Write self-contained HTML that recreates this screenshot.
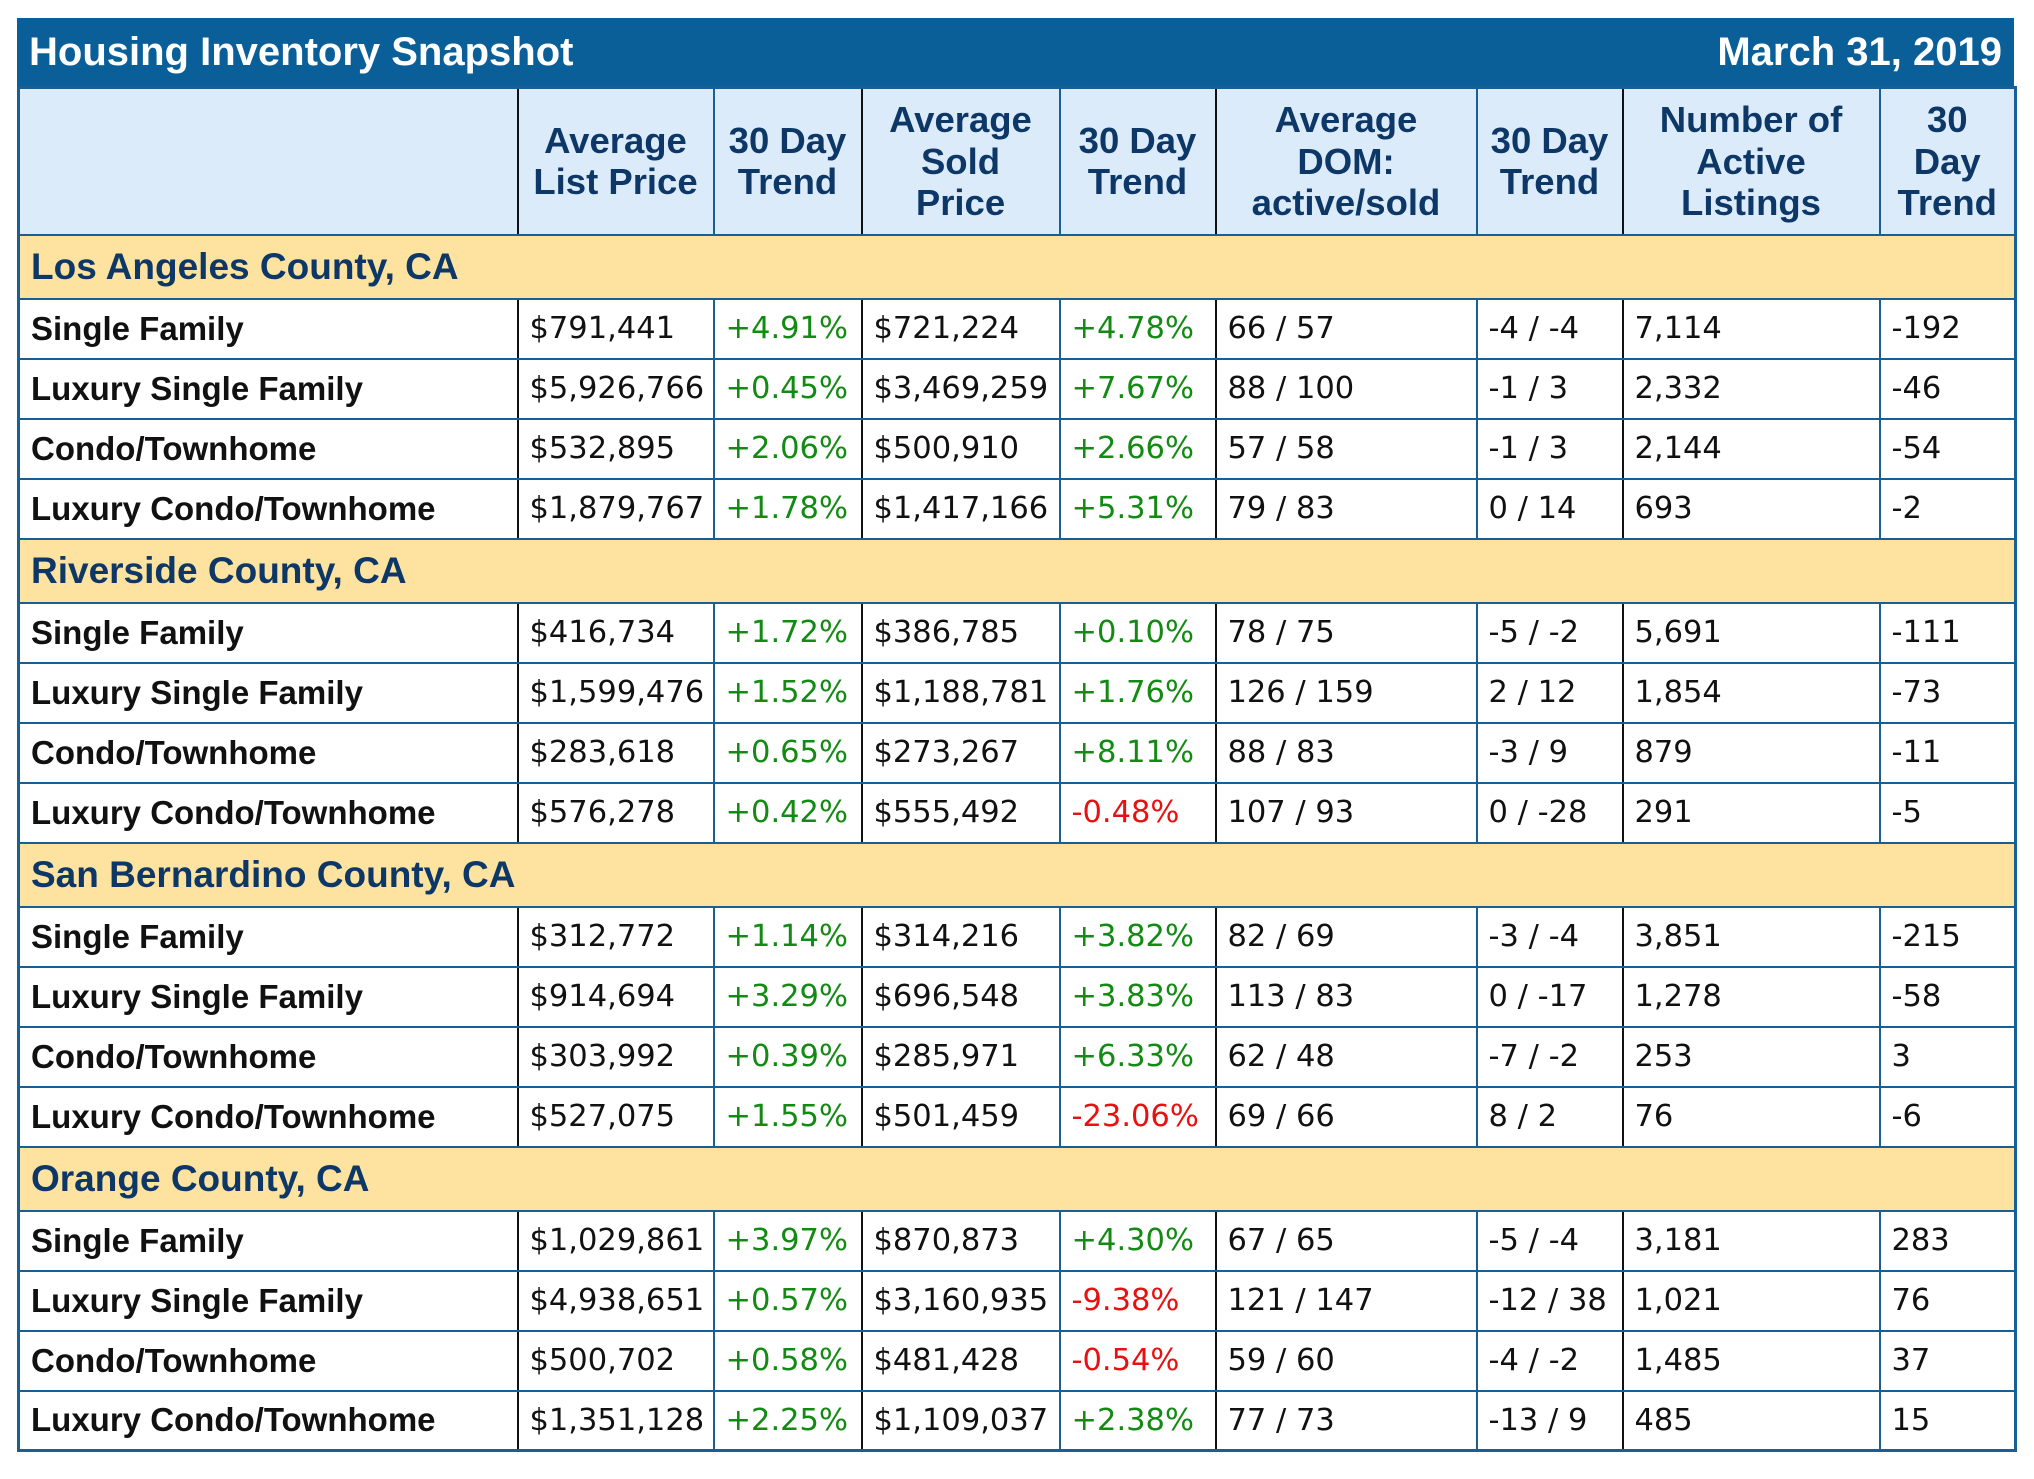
<!DOCTYPE html>
<html><head><meta charset="utf-8"><style>
html,body{margin:0;padding:0;background:#fff;width:2034px;height:1479px;overflow:hidden}
.wrap{position:absolute;left:17px;top:18px;width:1997px}
.title{height:68px;background:#0a5f99;color:#fff;font:bold 40px "Liberation Sans",Arial,sans-serif;display:flex;justify-content:space-between;align-items:center;padding:0 12px;box-sizing:border-box}
table{border-collapse:collapse;table-layout:fixed;width:1997px}
td{box-sizing:border-box;padding:0 0 0 11px;white-space:nowrap;border:2px solid #1a5f94;font:30.5px "DejaVu Sans",Verdana,sans-serif;color:#111;height:60px}
td.b{border-right:2px solid #111}
tr.h td{height:147px;background:#dcebfa;color:#0d3767;font:bold 36.5px/41.5px "Liberation Sans",Arial,sans-serif;text-align:center;padding:0 2px}
tr.s td{height:64px;background:#fde39f;color:#0d3767;font:bold 37px "Liberation Sans",Arial,sans-serif}
td.l{font:bold 33px "Liberation Sans",Arial,sans-serif;padding-left:11px}
.g{color:#138a13}.r{color:#e81010}
table{border:3px solid #1a5f94}
</style></head><body>
<div class="wrap">
<div class="title"><span>Housing Inventory Snapshot</span><span>March 31, 2019</span></div>
<table>
<colgroup><col style="width:499px"><col style="width:196px"><col style="width:148px"><col style="width:198px"><col style="width:156px"><col style="width:261px"><col style="width:146px"><col style="width:257px"><col style="width:136px"></colgroup>
<tr class="h"><td class="b"></td><td>Average<br>List Price</td><td class="b">30 Day<br>Trend</td><td>Average<br>Sold<br>Price</td><td class="b">30 Day<br>Trend</td><td>Average<br>DOM:<br>active/sold</td><td class="b">30 Day<br>Trend</td><td>Number of<br>Active<br>Listings</td><td>30<br>Day<br>Trend</td></tr>
<tr class="s"><td colspan="9">Los Angeles County, CA</td></tr>
<tr><td class="l b">Single Family</td><td>$791,441</td><td class="g b">+4.91%</td><td>$721,224</td><td class="g b">+4.78%</td><td>66 / 57</td><td class="b">-4 / -4</td><td>7,114</td><td>-192</td></tr>
<tr><td class="l b">Luxury Single Family</td><td>$5,926,766</td><td class="g b">+0.45%</td><td>$3,469,259</td><td class="g b">+7.67%</td><td>88 / 100</td><td class="b">-1 / 3</td><td>2,332</td><td>-46</td></tr>
<tr><td class="l b">Condo/Townhome</td><td>$532,895</td><td class="g b">+2.06%</td><td>$500,910</td><td class="g b">+2.66%</td><td>57 / 58</td><td class="b">-1 / 3</td><td>2,144</td><td>-54</td></tr>
<tr><td class="l b">Luxury Condo/Townhome</td><td>$1,879,767</td><td class="g b">+1.78%</td><td>$1,417,166</td><td class="g b">+5.31%</td><td>79 / 83</td><td class="b">0 / 14</td><td>693</td><td>-2</td></tr>
<tr class="s"><td colspan="9">Riverside County, CA</td></tr>
<tr><td class="l b">Single Family</td><td>$416,734</td><td class="g b">+1.72%</td><td>$386,785</td><td class="g b">+0.10%</td><td>78 / 75</td><td class="b">-5 / -2</td><td>5,691</td><td>-111</td></tr>
<tr><td class="l b">Luxury Single Family</td><td>$1,599,476</td><td class="g b">+1.52%</td><td>$1,188,781</td><td class="g b">+1.76%</td><td>126 / 159</td><td class="b">2 / 12</td><td>1,854</td><td>-73</td></tr>
<tr><td class="l b">Condo/Townhome</td><td>$283,618</td><td class="g b">+0.65%</td><td>$273,267</td><td class="g b">+8.11%</td><td>88 / 83</td><td class="b">-3 / 9</td><td>879</td><td>-11</td></tr>
<tr><td class="l b">Luxury Condo/Townhome</td><td>$576,278</td><td class="g b">+0.42%</td><td>$555,492</td><td class="r b">-0.48%</td><td>107 / 93</td><td class="b">0 / -28</td><td>291</td><td>-5</td></tr>
<tr class="s"><td colspan="9">San Bernardino County, CA</td></tr>
<tr><td class="l b">Single Family</td><td>$312,772</td><td class="g b">+1.14%</td><td>$314,216</td><td class="g b">+3.82%</td><td>82 / 69</td><td class="b">-3 / -4</td><td>3,851</td><td>-215</td></tr>
<tr><td class="l b">Luxury Single Family</td><td>$914,694</td><td class="g b">+3.29%</td><td>$696,548</td><td class="g b">+3.83%</td><td>113 / 83</td><td class="b">0 / -17</td><td>1,278</td><td>-58</td></tr>
<tr><td class="l b">Condo/Townhome</td><td>$303,992</td><td class="g b">+0.39%</td><td>$285,971</td><td class="g b">+6.33%</td><td>62 / 48</td><td class="b">-7 / -2</td><td>253</td><td>3</td></tr>
<tr><td class="l b">Luxury Condo/Townhome</td><td>$527,075</td><td class="g b">+1.55%</td><td>$501,459</td><td class="r b">-23.06%</td><td>69 / 66</td><td class="b">8 / 2</td><td>76</td><td>-6</td></tr>
<tr class="s"><td colspan="9">Orange County, CA</td></tr>
<tr><td class="l b">Single Family</td><td>$1,029,861</td><td class="g b">+3.97%</td><td>$870,873</td><td class="g b">+4.30%</td><td>67 / 65</td><td class="b">-5 / -4</td><td>3,181</td><td>283</td></tr>
<tr><td class="l b">Luxury Single Family</td><td>$4,938,651</td><td class="g b">+0.57%</td><td>$3,160,935</td><td class="r b">-9.38%</td><td>121 / 147</td><td class="b">-12 / 38</td><td>1,021</td><td>76</td></tr>
<tr><td class="l b">Condo/Townhome</td><td>$500,702</td><td class="g b">+0.58%</td><td>$481,428</td><td class="r b">-0.54%</td><td>59 / 60</td><td class="b">-4 / -2</td><td>1,485</td><td>37</td></tr>
<tr><td class="l b">Luxury Condo/Townhome</td><td>$1,351,128</td><td class="g b">+2.25%</td><td>$1,109,037</td><td class="g b">+2.38%</td><td>77 / 73</td><td class="b">-13 / 9</td><td>485</td><td>15</td></tr>
</table>
</div>
</body></html>
